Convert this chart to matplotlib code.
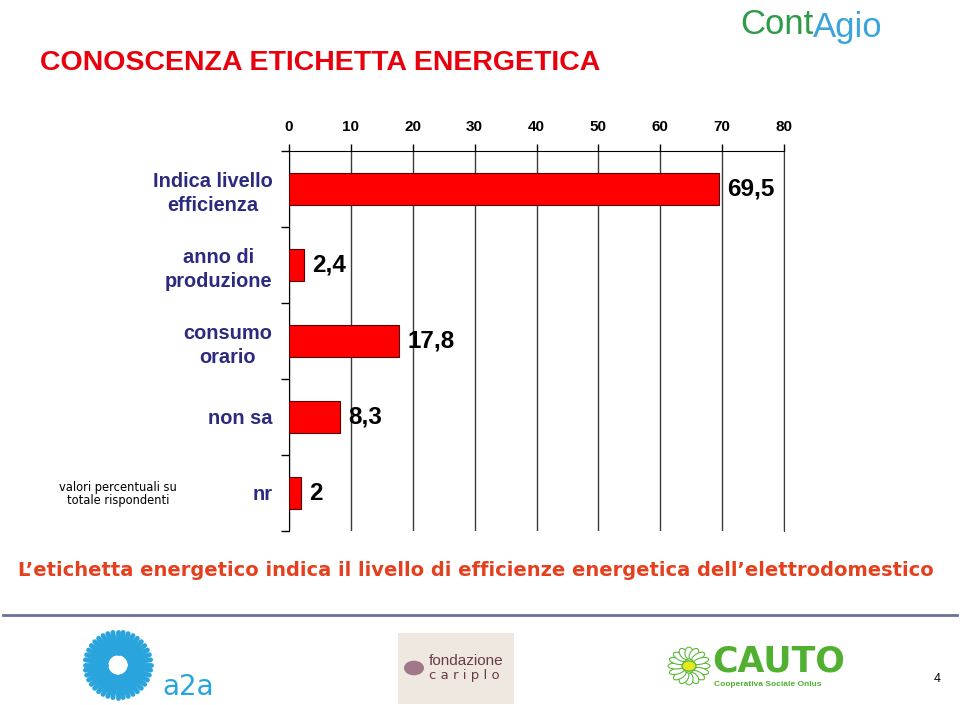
import matplotlib
matplotlib.use("Agg")
import matplotlib.pyplot as plt
from matplotlib.patches import Rectangle, Circle, Ellipse
from matplotlib import font_manager
import numpy as np

categories = ["Indica livello\nefficienza", "anno di\nproduzione", "consumo\norario", "non sa", "nr"]
values = [69.5, 2.4, 17.8, 8.3, 2.0]
value_labels = ["69,5", "2,4", "17,8", "8,3", "2"]
x_ticks = [0, 10, 20, 30, 40, 50, 60, 70, 80]

W, H = 960, 705
NAVY = "#2B2A7E"
GRID = "#3a3a3a"

fam_names = {f.name for f in font_manager.fontManager.ttflist}
narrow = "Liberation Sans Narrow" if "Liberation Sans Narrow" in fam_names else "Liberation Sans"
plt.rcParams["font.family"] = ["Liberation Sans", "DejaVu Sans"]


def fx(x):
    return x / W


def fy(y):
    return 1 - y / H


fig = plt.figure(figsize=(9.6, 7.05), dpi=100)

# main chart area
ax = fig.add_axes([fx(289), fy(531), fx(784) - fx(289), fy(151) - fy(531)])
ypos = np.arange(len(categories))
ax.barh(ypos, values, height=0.41, color="#FF0000", edgecolor="#5A0000", linewidth=0.8, zorder=3)
for y, v, lab in zip(ypos, values, value_labels):
    ax.text(v + 1.3, y, lab, va="center", ha="left", fontsize=17.5, fontweight="bold", color="black", zorder=4)

ax.set_xlim(0, 80)
ax.set_ylim(len(categories) - 0.5, -0.5)
ax.xaxis.tick_top()
ax.set_xticks(x_ticks)
ax.set_xticklabels([str(t) for t in x_ticks], fontsize=11, fontweight="bold")
ax.tick_params(axis="x", length=5, width=1, color="black", pad=7)
ax.grid(axis="x", color=GRID, linewidth=1, zorder=1)

ax.set_yticks(ypos)
ax.set_yticklabels(categories, fontsize=14.4, fontweight="bold", color=NAVY)
for t in ax.get_yticklabels():
    t.set_multialignment("center")
    t.set_linespacing(1.35)
ax.tick_params(axis="y", which="major", length=0, pad=12)
ax.set_yticks(np.arange(-0.5, len(categories), 1.0), minor=True)
ax.tick_params(axis="y", which="minor", length=6, width=1, color="black")

ax.spines["bottom"].set_visible(False)
ax.spines["right"].set_color(GRID)
ax.spines["left"].set_color("black")
ax.spines["top"].set_color("black")

# title and notes
fig.text(fx(40), fy(63), "CONOSCENZA ETICHETTA ENERGETICA", family=[narrow, "DejaVu Sans"],
         fontsize=20.5, fontweight="bold", color="#E8000D", ha="left", va="center")
fig.text(fx(118), fy(494), "valori percentuali su\ntotale rispondenti", family=["DejaVu Sans"],
         fontsize=8.3, color="black", ha="center", va="center", linespacing=1.0)
fig.text(fx(18), fy(571), "L\u2019etichetta energetico indica il livello di efficienze energetica dell\u2019elettrodomestico",
         family=["DejaVu Sans"], fontsize=14, fontweight="bold", color="#E5401E", ha="left", va="center")

# separator line
fig.add_artist(plt.Line2D([fx(3), fx(957)], [fy(615), fy(615)], color="#6E6E9E", linewidth=2))

# logos (approximations)
fig.text(fx(740), fy(24), "Cont", family=[narrow], fontsize=25, color="#2E9B48", ha="left", va="center")
fig.text(fx(813), fy(27), "Agio", family=[narrow], fontsize=25, color="#3BA4D8", ha="left", va="center")

# a2a
for ang in np.linspace(0, 2 * np.pi, 40, endpoint=False):
    r0, r1 = 12, 33
    fig.add_artist(plt.Line2D([fx(118 + r0 * np.cos(ang)), fx(118 + r1 * np.cos(ang))],
                              [fy(665 + r0 * np.sin(ang)), fy(665 + r1 * np.sin(ang))],
                              color="#2AA4DC", linewidth=3.5, solid_capstyle="round"))
fig.text(fx(162), fy(687), "a2a", family=["DejaVu Sans"], fontsize=20, color="#2AA4DC", ha="left", va="center")

# fondazione cariplo
fig.add_artist(Rectangle((fx(398), fy(704)), fx(514) - fx(398), fy(633) - fy(704),
                         transform=fig.transFigure, facecolor="#EEE8E0", edgecolor="none"))
fig.add_artist(Circle((fx(414), fy(668)), 10 / W, transform=fig.transFigure, facecolor="#A07888", edgecolor="none"))
fig.text(fx(429), fy(661), "fondazione", family=[narrow], fontsize=11, color="#6A3A4A", ha="left", va="center")
fig.text(fx(429), fy(676), "c a r i p l o", family=["DejaVu Sans"], fontsize=9.5, color="#6A3A4A", ha="left", va="center")

# CAUTO
for ang in np.linspace(0, 2 * np.pi, 16, endpoint=False):
    fig.add_artist(Ellipse((fx(689 + 13 * np.cos(ang)), fy(666 + 13 * np.sin(ang))), 16 / W, 6 / H,
                           angle=np.degrees(-ang), transform=fig.transFigure,
                           facecolor="white", edgecolor="#5DB83A", linewidth=0.8))
fig.add_artist(Circle((fx(689), fy(666)), 7 / W, transform=fig.transFigure, facecolor="#E8E81E", edgecolor="#5DB83A"))
fig.text(fx(712), fy(662), "CAUTO", family=["DejaVu Sans"], fontsize=25, fontweight="bold", color="#52B030",
         ha="left", va="center")
fig.text(fx(714), fy(684), "Cooperativa Sociale Onlus", family=[narrow], fontsize=6, fontweight="bold",
         color="#52B030", ha="left", va="center")

fig.text(fx(937), fy(679), "4", family=[narrow], fontsize=9, color="black", ha="center", va="center")

fig.savefig("out.png", dpi=100)
